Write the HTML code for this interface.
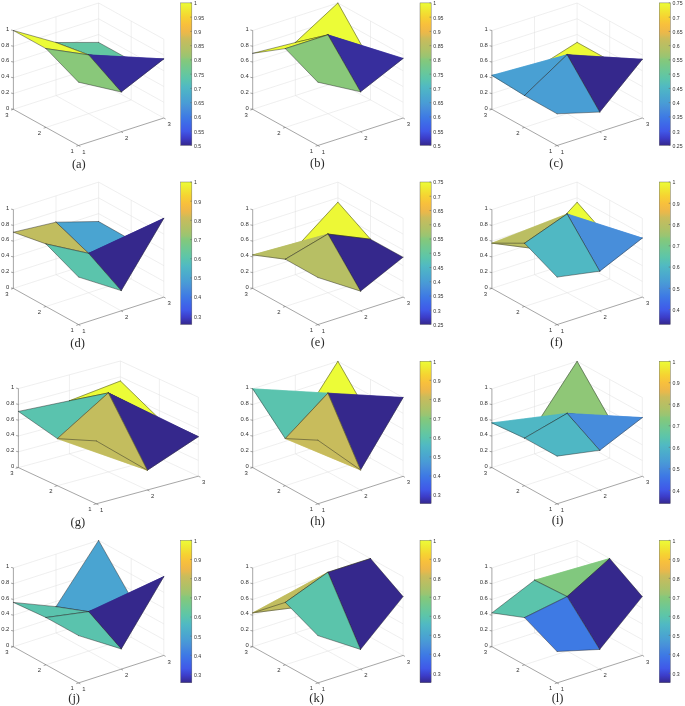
<!DOCTYPE html>
<html><head><meta charset="utf-8"><style>
html,body{margin:0;padding:0;background:#fff;width:685px;height:706px;overflow:hidden}
svg{position:absolute;left:0;top:0;will-change:transform}
.g{stroke:#dedede;stroke-width:0.5}
.a{stroke:#6a6a6a;stroke-width:0.6}
.s{stroke:#222;stroke-width:0.45;stroke-linecap:round}
.cbr{stroke:#5a5a5a;stroke-width:0.4}
.t{font-family:"Liberation Sans",sans-serif;font-size:5.9px;fill:#303030}
.ct{font-family:"Liberation Sans",sans-serif;font-size:5.2px;fill:#303030}
.lab{font-family:"Liberation Serif",serif;font-size:12.5px;fill:#2a2a2a}
</style></head><body>
<svg width="685" height="706" viewBox="0 0 685 706">
<defs><linearGradient id="par" x1="0" y1="1" x2="0" y2="0">
<stop offset="0.0000" stop-color="#35288c"/>
<stop offset="0.0500" stop-color="#3c3cc8"/>
<stop offset="0.1000" stop-color="#4058e8"/>
<stop offset="0.1500" stop-color="#3e69e8"/>
<stop offset="0.2000" stop-color="#3e7be4"/>
<stop offset="0.2600" stop-color="#488fda"/>
<stop offset="0.3000" stop-color="#499dd5"/>
<stop offset="0.3500" stop-color="#4baacd"/>
<stop offset="0.4100" stop-color="#50b9c3"/>
<stop offset="0.4700" stop-color="#5cc5aa"/>
<stop offset="0.5300" stop-color="#6ec894"/>
<stop offset="0.5900" stop-color="#82c87d"/>
<stop offset="0.6050" stop-color="#88c87b"/>
<stop offset="0.6200" stop-color="#98c573"/>
<stop offset="0.6600" stop-color="#aac269"/>
<stop offset="0.7200" stop-color="#c0bd60"/>
<stop offset="0.7500" stop-color="#cbbc5a"/>
<stop offset="0.7800" stop-color="#e4b94e"/>
<stop offset="0.8000" stop-color="#eeb848"/>
<stop offset="0.8500" stop-color="#f8c03c"/>
<stop offset="0.9000" stop-color="#f6d232"/>
<stop offset="0.9500" stop-color="#f0e832"/>
<stop offset="1.0000" stop-color="#ecfc37"/>
</linearGradient></defs>
<line class="g" x1="121.20" y1="131.75" x2="56.00" y2="95.55"/>
<line class="g" x1="163.80" y1="118.00" x2="98.60" y2="81.80"/>
<line class="g" x1="46.00" y1="127.40" x2="131.20" y2="99.90"/>
<line class="g" x1="13.40" y1="109.30" x2="98.60" y2="81.80"/>
<line class="g" x1="56.00" y1="95.55" x2="56.00" y2="16.75"/>
<line class="g" x1="98.60" y1="81.80" x2="98.60" y2="3.00"/>
<line class="g" x1="163.80" y1="118.00" x2="163.80" y2="39.20"/>
<line class="g" x1="131.20" y1="99.90" x2="131.20" y2="21.10"/>
<line class="g" x1="13.40" y1="93.54" x2="98.60" y2="66.04"/>
<line class="g" x1="163.80" y1="102.24" x2="98.60" y2="66.04"/>
<line class="g" x1="13.40" y1="77.78" x2="98.60" y2="50.28"/>
<line class="g" x1="163.80" y1="86.48" x2="98.60" y2="50.28"/>
<line class="g" x1="13.40" y1="62.02" x2="98.60" y2="34.52"/>
<line class="g" x1="163.80" y1="70.72" x2="98.60" y2="34.52"/>
<line class="g" x1="13.40" y1="46.26" x2="98.60" y2="18.76"/>
<line class="g" x1="163.80" y1="54.96" x2="98.60" y2="18.76"/>
<line class="g" x1="13.40" y1="30.50" x2="98.60" y2="3.00"/>
<line class="g" x1="163.80" y1="39.20" x2="98.60" y2="3.00"/>
<line class="a" x1="13.40" y1="109.30" x2="13.40" y2="30.50"/>
<line class="a" x1="78.60" y1="145.50" x2="13.40" y2="109.30"/>
<line class="a" x1="78.60" y1="145.50" x2="163.80" y2="118.00"/>
<line class="a" x1="13.40" y1="109.30" x2="11.10" y2="108.80"/>
<line class="a" x1="13.40" y1="93.54" x2="11.10" y2="93.04"/>
<line class="a" x1="13.40" y1="77.78" x2="11.10" y2="77.28"/>
<line class="a" x1="13.40" y1="62.02" x2="11.10" y2="61.52"/>
<line class="a" x1="13.40" y1="46.26" x2="11.10" y2="45.76"/>
<line class="a" x1="13.40" y1="30.50" x2="11.10" y2="30.00"/>
<line class="a" x1="78.60" y1="145.50" x2="76.26" y2="146.26"/>
<line class="a" x1="46.00" y1="127.40" x2="43.66" y2="128.16"/>
<line class="a" x1="13.40" y1="109.30" x2="11.06" y2="110.06"/>
<line class="a" x1="78.60" y1="145.50" x2="80.39" y2="146.50"/>
<line class="a" x1="121.20" y1="131.75" x2="122.99" y2="132.75"/>
<line class="a" x1="163.80" y1="118.00" x2="165.59" y2="119.00"/>
<text class="t" x="9.40" y="109.61" text-anchor="end">0</text>
<text class="t" x="9.40" y="93.85" text-anchor="end">0.2</text>
<text class="t" x="9.40" y="78.09" text-anchor="end">0.4</text>
<text class="t" x="9.40" y="62.33" text-anchor="end">0.6</text>
<text class="t" x="9.40" y="46.57" text-anchor="end">0.8</text>
<text class="t" x="9.40" y="30.81" text-anchor="end">1</text>
<text class="t" x="72.10" y="153.06" text-anchor="middle">1</text>
<text class="t" x="39.50" y="134.96" text-anchor="middle">2</text>
<text class="t" x="6.90" y="116.86" text-anchor="middle">3</text>
<text class="t" x="84.00" y="153.61" text-anchor="middle">1</text>
<text class="t" x="126.60" y="139.86" text-anchor="middle">2</text>
<text class="t" x="169.20" y="126.11" text-anchor="middle">3</text>
<path fill="#63c6a2" d="M56.00,42.52 L98.60,42.40 L131.20,60.50 Z M56.00,42.52 L131.20,60.50 L88.60,54.87 Z"/>
<line class="s" x1="131.20" y1="60.50" x2="98.60" y2="42.40"/>
<line class="s" x1="98.60" y1="42.40" x2="56.00" y2="42.52"/>
<line class="s" x1="88.60" y1="54.87" x2="131.20" y2="60.50"/>
<line class="s" x1="88.60" y1="54.87" x2="56.00" y2="42.52"/>
<path fill="#ecfc37" d="M13.40,30.50 L56.00,42.52 L88.60,54.87 Z M13.40,30.50 L88.60,54.87 L46.00,48.60 Z"/>
<line class="s" x1="88.60" y1="54.87" x2="56.00" y2="42.52"/>
<line class="s" x1="56.00" y1="42.52" x2="13.40" y2="30.50"/>
<line class="s" x1="46.00" y1="48.60" x2="88.60" y2="54.87"/>
<line class="s" x1="46.00" y1="48.60" x2="13.40" y2="30.50"/>
<polygon fill="#362c98" stroke="#362c98" stroke-width="0.5" points="163.80,58.90 131.20,60.50 88.60,54.87"/>
<line class="s" x1="163.80" y1="58.90" x2="131.20" y2="60.50"/>
<line class="s" x1="131.20" y1="60.50" x2="88.60" y2="54.87"/>
<polygon fill="#362c98" stroke="#362c98" stroke-width="0.5" points="121.20,91.96 163.80,58.90 88.60,54.87"/>
<line class="s" x1="121.20" y1="91.96" x2="163.80" y2="58.90"/>
<line class="s" x1="121.20" y1="91.96" x2="88.60" y2="54.87"/>
<path fill="#89c87a" d="M46.00,48.60 L88.60,54.87 L121.20,91.96 Z M46.00,48.60 L121.20,91.96 L78.60,82.22 Z"/>
<line class="s" x1="121.20" y1="91.96" x2="88.60" y2="54.87"/>
<line class="s" x1="88.60" y1="54.87" x2="46.00" y2="48.60"/>
<line class="s" x1="78.60" y1="82.22" x2="121.20" y2="91.96"/>
<line class="s" x1="78.60" y1="82.22" x2="46.00" y2="48.60"/>
<rect x="180.70" y="2.90" width="11.15" height="142.50" fill="url(#par)" class="cbr"/>
<line class="a" x1="190.25" y1="145.40" x2="191.85" y2="145.40"/>
<text class="ct" x="194.05" y="147.76">0.5</text>
<line class="a" x1="190.25" y1="131.15" x2="191.85" y2="131.15"/>
<text class="ct" x="194.05" y="133.51">0.55</text>
<line class="a" x1="190.25" y1="116.90" x2="191.85" y2="116.90"/>
<text class="ct" x="194.05" y="119.26">0.6</text>
<line class="a" x1="190.25" y1="102.65" x2="191.85" y2="102.65"/>
<text class="ct" x="194.05" y="105.01">0.65</text>
<line class="a" x1="190.25" y1="88.40" x2="191.85" y2="88.40"/>
<text class="ct" x="194.05" y="90.76">0.7</text>
<line class="a" x1="190.25" y1="74.15" x2="191.85" y2="74.15"/>
<text class="ct" x="194.05" y="76.51">0.75</text>
<line class="a" x1="190.25" y1="59.90" x2="191.85" y2="59.90"/>
<text class="ct" x="194.05" y="62.26">0.8</text>
<line class="a" x1="190.25" y1="45.65" x2="191.85" y2="45.65"/>
<text class="ct" x="194.05" y="48.01">0.85</text>
<line class="a" x1="190.25" y1="31.40" x2="191.85" y2="31.40"/>
<text class="ct" x="194.05" y="33.76">0.9</text>
<line class="a" x1="190.25" y1="17.15" x2="191.85" y2="17.15"/>
<text class="ct" x="194.05" y="19.51">0.95</text>
<line class="a" x1="190.25" y1="2.90" x2="191.85" y2="2.90"/>
<text class="ct" x="194.05" y="5.26">1</text>
<text class="lab" x="78.85" y="168.30" text-anchor="middle">(a)</text>
<line class="g" x1="360.50" y1="131.75" x2="295.30" y2="95.55"/>
<line class="g" x1="403.10" y1="118.00" x2="337.90" y2="81.80"/>
<line class="g" x1="285.30" y1="127.40" x2="370.50" y2="99.90"/>
<line class="g" x1="252.70" y1="109.30" x2="337.90" y2="81.80"/>
<line class="g" x1="295.30" y1="95.55" x2="295.30" y2="16.75"/>
<line class="g" x1="337.90" y1="81.80" x2="337.90" y2="3.00"/>
<line class="g" x1="403.10" y1="118.00" x2="403.10" y2="39.20"/>
<line class="g" x1="370.50" y1="99.90" x2="370.50" y2="21.10"/>
<line class="g" x1="252.70" y1="93.54" x2="337.90" y2="66.04"/>
<line class="g" x1="403.10" y1="102.24" x2="337.90" y2="66.04"/>
<line class="g" x1="252.70" y1="77.78" x2="337.90" y2="50.28"/>
<line class="g" x1="403.10" y1="86.48" x2="337.90" y2="50.28"/>
<line class="g" x1="252.70" y1="62.02" x2="337.90" y2="34.52"/>
<line class="g" x1="403.10" y1="70.72" x2="337.90" y2="34.52"/>
<line class="g" x1="252.70" y1="46.26" x2="337.90" y2="18.76"/>
<line class="g" x1="403.10" y1="54.96" x2="337.90" y2="18.76"/>
<line class="g" x1="252.70" y1="30.50" x2="337.90" y2="3.00"/>
<line class="g" x1="403.10" y1="39.20" x2="337.90" y2="3.00"/>
<line class="a" x1="252.70" y1="109.30" x2="252.70" y2="30.50"/>
<line class="a" x1="317.90" y1="145.50" x2="252.70" y2="109.30"/>
<line class="a" x1="317.90" y1="145.50" x2="403.10" y2="118.00"/>
<line class="a" x1="252.70" y1="109.30" x2="250.40" y2="108.80"/>
<line class="a" x1="252.70" y1="93.54" x2="250.40" y2="93.04"/>
<line class="a" x1="252.70" y1="77.78" x2="250.40" y2="77.28"/>
<line class="a" x1="252.70" y1="62.02" x2="250.40" y2="61.52"/>
<line class="a" x1="252.70" y1="46.26" x2="250.40" y2="45.76"/>
<line class="a" x1="252.70" y1="30.50" x2="250.40" y2="30.00"/>
<line class="a" x1="317.90" y1="145.50" x2="315.56" y2="146.26"/>
<line class="a" x1="285.30" y1="127.40" x2="282.96" y2="128.16"/>
<line class="a" x1="252.70" y1="109.30" x2="250.36" y2="110.06"/>
<line class="a" x1="317.90" y1="145.50" x2="319.69" y2="146.50"/>
<line class="a" x1="360.50" y1="131.75" x2="362.29" y2="132.75"/>
<line class="a" x1="403.10" y1="118.00" x2="404.89" y2="119.00"/>
<text class="t" x="248.70" y="109.61" text-anchor="end">0</text>
<text class="t" x="248.70" y="93.85" text-anchor="end">0.2</text>
<text class="t" x="248.70" y="78.09" text-anchor="end">0.4</text>
<text class="t" x="248.70" y="62.33" text-anchor="end">0.6</text>
<text class="t" x="248.70" y="46.57" text-anchor="end">0.8</text>
<text class="t" x="248.70" y="30.81" text-anchor="end">1</text>
<text class="t" x="311.40" y="153.06" text-anchor="middle">1</text>
<text class="t" x="278.80" y="134.96" text-anchor="middle">2</text>
<text class="t" x="246.20" y="116.86" text-anchor="middle">3</text>
<text class="t" x="323.30" y="153.61" text-anchor="middle">1</text>
<text class="t" x="365.90" y="139.86" text-anchor="middle">2</text>
<text class="t" x="408.50" y="126.11" text-anchor="middle">3</text>
<polygon fill="#ecfc37" stroke="#ecfc37" stroke-width="0.5" points="370.50,61.29 337.90,3.00 295.30,42.52"/>
<line class="s" x1="370.50" y1="61.29" x2="337.90" y2="3.00"/>
<line class="s" x1="337.90" y1="3.00" x2="295.30" y2="42.52"/>
<polygon fill="#ecfc37" stroke="#ecfc37" stroke-width="0.5" points="327.90,34.85 370.50,61.29 295.30,42.52"/>
<line class="s" x1="327.90" y1="34.85" x2="370.50" y2="61.29"/>
<line class="s" x1="327.90" y1="34.85" x2="295.30" y2="42.52"/>
<path fill="#ecfc37" d="M252.70,53.35 L295.30,42.52 L327.90,34.85 Z M252.70,53.35 L327.90,34.85 L285.30,48.60 Z"/>
<line class="s" x1="327.90" y1="34.85" x2="295.30" y2="42.52"/>
<line class="s" x1="295.30" y1="42.52" x2="252.70" y2="53.35"/>
<line class="s" x1="285.30" y1="48.60" x2="327.90" y2="34.85"/>
<line class="s" x1="285.30" y1="48.60" x2="252.70" y2="53.35"/>
<polygon fill="#372e9d" stroke="#372e9d" stroke-width="0.5" points="403.10,58.43 370.50,61.29 327.90,34.85"/>
<line class="s" x1="403.10" y1="58.43" x2="370.50" y2="61.29"/>
<line class="s" x1="370.50" y1="61.29" x2="327.90" y2="34.85"/>
<polygon fill="#372e9d" stroke="#372e9d" stroke-width="0.5" points="360.50,91.80 403.10,58.43 327.90,34.85"/>
<line class="s" x1="360.50" y1="91.80" x2="403.10" y2="58.43"/>
<line class="s" x1="360.50" y1="91.80" x2="327.90" y2="34.85"/>
<path fill="#89c87a" d="M285.30,48.60 L327.90,34.85 L360.50,91.80 Z M285.30,48.60 L360.50,91.80 L317.90,82.22 Z"/>
<line class="s" x1="360.50" y1="91.80" x2="327.90" y2="34.85"/>
<line class="s" x1="327.90" y1="34.85" x2="285.30" y2="48.60"/>
<line class="s" x1="317.90" y1="82.22" x2="360.50" y2="91.80"/>
<line class="s" x1="317.90" y1="82.22" x2="285.30" y2="48.60"/>
<rect x="420.00" y="2.90" width="11.15" height="142.50" fill="url(#par)" class="cbr"/>
<line class="a" x1="429.55" y1="145.40" x2="431.15" y2="145.40"/>
<text class="ct" x="433.35" y="147.76">0.5</text>
<line class="a" x1="429.55" y1="131.15" x2="431.15" y2="131.15"/>
<text class="ct" x="433.35" y="133.51">0.55</text>
<line class="a" x1="429.55" y1="116.90" x2="431.15" y2="116.90"/>
<text class="ct" x="433.35" y="119.26">0.6</text>
<line class="a" x1="429.55" y1="102.65" x2="431.15" y2="102.65"/>
<text class="ct" x="433.35" y="105.01">0.65</text>
<line class="a" x1="429.55" y1="88.40" x2="431.15" y2="88.40"/>
<text class="ct" x="433.35" y="90.76">0.7</text>
<line class="a" x1="429.55" y1="74.15" x2="431.15" y2="74.15"/>
<text class="ct" x="433.35" y="76.51">0.75</text>
<line class="a" x1="429.55" y1="59.90" x2="431.15" y2="59.90"/>
<text class="ct" x="433.35" y="62.26">0.8</text>
<line class="a" x1="429.55" y1="45.65" x2="431.15" y2="45.65"/>
<text class="ct" x="433.35" y="48.01">0.85</text>
<line class="a" x1="429.55" y1="31.40" x2="431.15" y2="31.40"/>
<text class="ct" x="433.35" y="33.76">0.9</text>
<line class="a" x1="429.55" y1="17.15" x2="431.15" y2="17.15"/>
<text class="ct" x="433.35" y="19.51">0.95</text>
<line class="a" x1="429.55" y1="2.90" x2="431.15" y2="2.90"/>
<text class="ct" x="433.35" y="5.26">1</text>
<text class="lab" x="317.35" y="166.80" text-anchor="middle">(b)</text>
<line class="g" x1="599.70" y1="131.75" x2="534.50" y2="95.55"/>
<line class="g" x1="642.30" y1="118.00" x2="577.10" y2="81.80"/>
<line class="g" x1="524.50" y1="127.40" x2="609.70" y2="99.90"/>
<line class="g" x1="491.90" y1="109.30" x2="577.10" y2="81.80"/>
<line class="g" x1="534.50" y1="95.55" x2="534.50" y2="16.75"/>
<line class="g" x1="577.10" y1="81.80" x2="577.10" y2="3.00"/>
<line class="g" x1="642.30" y1="118.00" x2="642.30" y2="39.20"/>
<line class="g" x1="609.70" y1="99.90" x2="609.70" y2="21.10"/>
<line class="g" x1="491.90" y1="93.54" x2="577.10" y2="66.04"/>
<line class="g" x1="642.30" y1="102.24" x2="577.10" y2="66.04"/>
<line class="g" x1="491.90" y1="77.78" x2="577.10" y2="50.28"/>
<line class="g" x1="642.30" y1="86.48" x2="577.10" y2="50.28"/>
<line class="g" x1="491.90" y1="62.02" x2="577.10" y2="34.52"/>
<line class="g" x1="642.30" y1="70.72" x2="577.10" y2="34.52"/>
<line class="g" x1="491.90" y1="46.26" x2="577.10" y2="18.76"/>
<line class="g" x1="642.30" y1="54.96" x2="577.10" y2="18.76"/>
<line class="g" x1="491.90" y1="30.50" x2="577.10" y2="3.00"/>
<line class="g" x1="642.30" y1="39.20" x2="577.10" y2="3.00"/>
<line class="a" x1="491.90" y1="109.30" x2="491.90" y2="30.50"/>
<line class="a" x1="557.10" y1="145.50" x2="491.90" y2="109.30"/>
<line class="a" x1="557.10" y1="145.50" x2="642.30" y2="118.00"/>
<line class="a" x1="491.90" y1="109.30" x2="489.60" y2="108.80"/>
<line class="a" x1="491.90" y1="93.54" x2="489.60" y2="93.04"/>
<line class="a" x1="491.90" y1="77.78" x2="489.60" y2="77.28"/>
<line class="a" x1="491.90" y1="62.02" x2="489.60" y2="61.52"/>
<line class="a" x1="491.90" y1="46.26" x2="489.60" y2="45.76"/>
<line class="a" x1="491.90" y1="30.50" x2="489.60" y2="30.00"/>
<line class="a" x1="557.10" y1="145.50" x2="554.76" y2="146.26"/>
<line class="a" x1="524.50" y1="127.40" x2="522.16" y2="128.16"/>
<line class="a" x1="491.90" y1="109.30" x2="489.56" y2="110.06"/>
<line class="a" x1="557.10" y1="145.50" x2="558.89" y2="146.50"/>
<line class="a" x1="599.70" y1="131.75" x2="601.49" y2="132.75"/>
<line class="a" x1="642.30" y1="118.00" x2="644.09" y2="119.00"/>
<text class="t" x="487.90" y="109.61" text-anchor="end">0</text>
<text class="t" x="487.90" y="93.85" text-anchor="end">0.2</text>
<text class="t" x="487.90" y="78.09" text-anchor="end">0.4</text>
<text class="t" x="487.90" y="62.33" text-anchor="end">0.6</text>
<text class="t" x="487.90" y="46.57" text-anchor="end">0.8</text>
<text class="t" x="487.90" y="30.81" text-anchor="end">1</text>
<text class="t" x="550.60" y="153.06" text-anchor="middle">1</text>
<text class="t" x="518.00" y="134.96" text-anchor="middle">2</text>
<text class="t" x="485.40" y="116.86" text-anchor="middle">3</text>
<text class="t" x="562.50" y="153.61" text-anchor="middle">1</text>
<text class="t" x="605.10" y="139.86" text-anchor="middle">2</text>
<text class="t" x="647.70" y="126.11" text-anchor="middle">3</text>
<polygon fill="#ecfa37" stroke="#ecfa37" stroke-width="0.5" points="609.70,60.50 577.10,42.40 534.50,69.23"/>
<line class="s" x1="609.70" y1="60.50" x2="577.10" y2="42.40"/>
<line class="s" x1="577.10" y1="42.40" x2="534.50" y2="69.23"/>
<polygon fill="#ecfa37" stroke="#ecfa37" stroke-width="0.5" points="567.10,54.71 609.70,60.50 534.50,69.23"/>
<line class="s" x1="567.10" y1="54.71" x2="609.70" y2="60.50"/>
<line class="s" x1="567.10" y1="54.71" x2="534.50" y2="69.23"/>
<polygon fill="#49a0d3" stroke="#49a0d3" stroke-width="0.5" points="567.10,54.71 534.50,69.23 491.90,75.42"/>
<line class="s" x1="567.10" y1="54.71" x2="534.50" y2="69.23"/>
<line class="s" x1="534.50" y1="69.23" x2="491.90" y2="75.42"/>
<polygon fill="#35288c" stroke="#35288c" stroke-width="0.5" points="642.30,59.29 609.70,60.50 567.10,54.71"/>
<line class="s" x1="642.30" y1="59.29" x2="609.70" y2="60.50"/>
<line class="s" x1="609.70" y1="60.50" x2="567.10" y2="54.71"/>
<polygon fill="#49a0d3" stroke="#49a0d3" stroke-width="0.5" points="524.50,95.49 567.10,54.71 491.90,75.42"/>
<line class="s" x1="524.50" y1="95.49" x2="567.10" y2="54.71"/>
<line class="s" x1="524.50" y1="95.49" x2="491.90" y2="75.42"/>
<polygon fill="#35288c" stroke="#35288c" stroke-width="0.5" points="599.70,112.05 642.30,59.29 567.10,54.71"/>
<line class="s" x1="599.70" y1="112.05" x2="642.30" y2="59.29"/>
<line class="s" x1="599.70" y1="112.05" x2="567.10" y2="54.71"/>
<path fill="#499ed4" d="M524.50,95.49 L567.10,54.71 L599.70,112.05 Z M524.50,95.49 L599.70,112.05 L557.10,113.82 Z"/>
<line class="s" x1="599.70" y1="112.05" x2="567.10" y2="54.71"/>
<line class="s" x1="567.10" y1="54.71" x2="524.50" y2="95.49"/>
<line class="s" x1="557.10" y1="113.82" x2="599.70" y2="112.05"/>
<line class="s" x1="557.10" y1="113.82" x2="524.50" y2="95.49"/>
<rect x="659.20" y="2.90" width="11.15" height="142.50" fill="url(#par)" class="cbr"/>
<line class="a" x1="668.75" y1="145.40" x2="670.35" y2="145.40"/>
<text class="ct" x="672.55" y="147.76">0.25</text>
<line class="a" x1="668.75" y1="131.15" x2="670.35" y2="131.15"/>
<text class="ct" x="672.55" y="133.51">0.3</text>
<line class="a" x1="668.75" y1="116.90" x2="670.35" y2="116.90"/>
<text class="ct" x="672.55" y="119.26">0.35</text>
<line class="a" x1="668.75" y1="102.65" x2="670.35" y2="102.65"/>
<text class="ct" x="672.55" y="105.01">0.4</text>
<line class="a" x1="668.75" y1="88.40" x2="670.35" y2="88.40"/>
<text class="ct" x="672.55" y="90.76">0.45</text>
<line class="a" x1="668.75" y1="74.15" x2="670.35" y2="74.15"/>
<text class="ct" x="672.55" y="76.51">0.5</text>
<line class="a" x1="668.75" y1="59.90" x2="670.35" y2="59.90"/>
<text class="ct" x="672.55" y="62.26">0.55</text>
<line class="a" x1="668.75" y1="45.65" x2="670.35" y2="45.65"/>
<text class="ct" x="672.55" y="48.01">0.6</text>
<line class="a" x1="668.75" y1="31.40" x2="670.35" y2="31.40"/>
<text class="ct" x="672.55" y="33.76">0.65</text>
<line class="a" x1="668.75" y1="17.15" x2="670.35" y2="17.15"/>
<text class="ct" x="672.55" y="19.51">0.7</text>
<line class="a" x1="668.75" y1="2.90" x2="670.35" y2="2.90"/>
<text class="ct" x="672.55" y="5.26">0.75</text>
<text class="lab" x="556.25" y="166.60" text-anchor="middle">(c)</text>
<line class="g" x1="121.20" y1="310.85" x2="56.00" y2="274.65"/>
<line class="g" x1="163.80" y1="297.10" x2="98.60" y2="260.90"/>
<line class="g" x1="46.00" y1="306.50" x2="131.20" y2="279.00"/>
<line class="g" x1="13.40" y1="288.40" x2="98.60" y2="260.90"/>
<line class="g" x1="56.00" y1="274.65" x2="56.00" y2="195.85"/>
<line class="g" x1="98.60" y1="260.90" x2="98.60" y2="182.10"/>
<line class="g" x1="163.80" y1="297.10" x2="163.80" y2="218.30"/>
<line class="g" x1="131.20" y1="279.00" x2="131.20" y2="200.20"/>
<line class="g" x1="13.40" y1="272.64" x2="98.60" y2="245.14"/>
<line class="g" x1="163.80" y1="281.34" x2="98.60" y2="245.14"/>
<line class="g" x1="13.40" y1="256.88" x2="98.60" y2="229.38"/>
<line class="g" x1="163.80" y1="265.58" x2="98.60" y2="229.38"/>
<line class="g" x1="13.40" y1="241.12" x2="98.60" y2="213.62"/>
<line class="g" x1="163.80" y1="249.82" x2="98.60" y2="213.62"/>
<line class="g" x1="13.40" y1="225.36" x2="98.60" y2="197.86"/>
<line class="g" x1="163.80" y1="234.06" x2="98.60" y2="197.86"/>
<line class="g" x1="13.40" y1="209.60" x2="98.60" y2="182.10"/>
<line class="g" x1="163.80" y1="218.30" x2="98.60" y2="182.10"/>
<line class="a" x1="13.40" y1="288.40" x2="13.40" y2="209.60"/>
<line class="a" x1="78.60" y1="324.60" x2="13.40" y2="288.40"/>
<line class="a" x1="78.60" y1="324.60" x2="163.80" y2="297.10"/>
<line class="a" x1="13.40" y1="288.40" x2="11.10" y2="287.90"/>
<line class="a" x1="13.40" y1="272.64" x2="11.10" y2="272.14"/>
<line class="a" x1="13.40" y1="256.88" x2="11.10" y2="256.38"/>
<line class="a" x1="13.40" y1="241.12" x2="11.10" y2="240.62"/>
<line class="a" x1="13.40" y1="225.36" x2="11.10" y2="224.86"/>
<line class="a" x1="13.40" y1="209.60" x2="11.10" y2="209.10"/>
<line class="a" x1="78.60" y1="324.60" x2="76.26" y2="325.36"/>
<line class="a" x1="46.00" y1="306.50" x2="43.66" y2="307.26"/>
<line class="a" x1="13.40" y1="288.40" x2="11.06" y2="289.16"/>
<line class="a" x1="78.60" y1="324.60" x2="80.39" y2="325.60"/>
<line class="a" x1="121.20" y1="310.85" x2="122.99" y2="311.85"/>
<line class="a" x1="163.80" y1="297.10" x2="165.59" y2="298.10"/>
<text class="t" x="9.40" y="288.71" text-anchor="end">0</text>
<text class="t" x="9.40" y="272.95" text-anchor="end">0.2</text>
<text class="t" x="9.40" y="257.19" text-anchor="end">0.4</text>
<text class="t" x="9.40" y="241.43" text-anchor="end">0.6</text>
<text class="t" x="9.40" y="225.67" text-anchor="end">0.8</text>
<text class="t" x="9.40" y="209.91" text-anchor="end">1</text>
<text class="t" x="72.10" y="332.16" text-anchor="middle">1</text>
<text class="t" x="39.50" y="314.06" text-anchor="middle">2</text>
<text class="t" x="6.90" y="295.96" text-anchor="middle">3</text>
<text class="t" x="84.00" y="332.71" text-anchor="middle">1</text>
<text class="t" x="126.60" y="318.96" text-anchor="middle">2</text>
<text class="t" x="169.20" y="305.21" text-anchor="middle">3</text>
<path fill="#4aa4d1" d="M56.00,222.17 L98.60,221.50 L131.20,239.99 Z M56.00,222.17 L131.20,239.99 L88.60,253.35 Z"/>
<line class="s" x1="131.20" y1="239.99" x2="98.60" y2="221.50"/>
<line class="s" x1="98.60" y1="221.50" x2="56.00" y2="222.17"/>
<line class="s" x1="88.60" y1="253.35" x2="131.20" y2="239.99"/>
<line class="s" x1="88.60" y1="253.35" x2="56.00" y2="222.17"/>
<path fill="#c1bd5f" d="M13.40,232.22 L56.00,222.17 L88.60,253.35 Z M13.40,232.22 L88.60,253.35 L46.00,243.93 Z"/>
<line class="s" x1="88.60" y1="253.35" x2="56.00" y2="222.17"/>
<line class="s" x1="56.00" y1="222.17" x2="13.40" y2="232.22"/>
<line class="s" x1="46.00" y1="243.93" x2="88.60" y2="253.35"/>
<line class="s" x1="46.00" y1="243.93" x2="13.40" y2="232.22"/>
<polygon fill="#35288c" stroke="#35288c" stroke-width="0.5" points="163.80,218.30 131.20,239.99 88.60,253.35"/>
<line class="s" x1="163.80" y1="218.30" x2="131.20" y2="239.99"/>
<line class="s" x1="131.20" y1="239.99" x2="88.60" y2="253.35"/>
<polygon fill="#35288c" stroke="#35288c" stroke-width="0.5" points="121.20,290.60 163.80,218.30 88.60,253.35"/>
<line class="s" x1="121.20" y1="290.60" x2="163.80" y2="218.30"/>
<line class="s" x1="121.20" y1="290.60" x2="88.60" y2="253.35"/>
<path fill="#5bc4ac" d="M46.00,243.93 L88.60,253.35 L121.20,290.60 Z M46.00,243.93 L121.20,290.60 L78.60,277.08 Z"/>
<line class="s" x1="121.20" y1="290.60" x2="88.60" y2="253.35"/>
<line class="s" x1="88.60" y1="253.35" x2="46.00" y2="243.93"/>
<line class="s" x1="78.60" y1="277.08" x2="121.20" y2="290.60"/>
<line class="s" x1="78.60" y1="277.08" x2="46.00" y2="243.93"/>
<rect x="180.70" y="182.00" width="11.15" height="142.50" fill="url(#par)" class="cbr"/>
<line class="a" x1="190.25" y1="316.25" x2="191.85" y2="316.25"/>
<text class="ct" x="194.05" y="318.61">0.3</text>
<line class="a" x1="190.25" y1="297.07" x2="191.85" y2="297.07"/>
<text class="ct" x="194.05" y="299.44">0.4</text>
<line class="a" x1="190.25" y1="277.90" x2="191.85" y2="277.90"/>
<text class="ct" x="194.05" y="280.26">0.5</text>
<line class="a" x1="190.25" y1="258.72" x2="191.85" y2="258.72"/>
<text class="ct" x="194.05" y="261.08">0.6</text>
<line class="a" x1="190.25" y1="239.54" x2="191.85" y2="239.54"/>
<text class="ct" x="194.05" y="241.90">0.7</text>
<line class="a" x1="190.25" y1="220.36" x2="191.85" y2="220.36"/>
<text class="ct" x="194.05" y="222.72">0.8</text>
<line class="a" x1="190.25" y1="201.18" x2="191.85" y2="201.18"/>
<text class="ct" x="194.05" y="203.54">0.9</text>
<line class="a" x1="190.25" y1="182.00" x2="191.85" y2="182.00"/>
<text class="ct" x="194.05" y="184.36">1</text>
<text class="lab" x="77.60" y="346.50" text-anchor="middle">(d)</text>
<line class="g" x1="360.50" y1="310.85" x2="295.30" y2="274.65"/>
<line class="g" x1="403.10" y1="297.10" x2="337.90" y2="260.90"/>
<line class="g" x1="285.30" y1="306.50" x2="370.50" y2="279.00"/>
<line class="g" x1="252.70" y1="288.40" x2="337.90" y2="260.90"/>
<line class="g" x1="295.30" y1="274.65" x2="295.30" y2="195.85"/>
<line class="g" x1="337.90" y1="260.90" x2="337.90" y2="182.10"/>
<line class="g" x1="403.10" y1="297.10" x2="403.10" y2="218.30"/>
<line class="g" x1="370.50" y1="279.00" x2="370.50" y2="200.20"/>
<line class="g" x1="252.70" y1="272.64" x2="337.90" y2="245.14"/>
<line class="g" x1="403.10" y1="281.34" x2="337.90" y2="245.14"/>
<line class="g" x1="252.70" y1="256.88" x2="337.90" y2="229.38"/>
<line class="g" x1="403.10" y1="265.58" x2="337.90" y2="229.38"/>
<line class="g" x1="252.70" y1="241.12" x2="337.90" y2="213.62"/>
<line class="g" x1="403.10" y1="249.82" x2="337.90" y2="213.62"/>
<line class="g" x1="252.70" y1="225.36" x2="337.90" y2="197.86"/>
<line class="g" x1="403.10" y1="234.06" x2="337.90" y2="197.86"/>
<line class="g" x1="252.70" y1="209.60" x2="337.90" y2="182.10"/>
<line class="g" x1="403.10" y1="218.30" x2="337.90" y2="182.10"/>
<line class="a" x1="252.70" y1="288.40" x2="252.70" y2="209.60"/>
<line class="a" x1="317.90" y1="324.60" x2="252.70" y2="288.40"/>
<line class="a" x1="317.90" y1="324.60" x2="403.10" y2="297.10"/>
<line class="a" x1="252.70" y1="288.40" x2="250.40" y2="287.90"/>
<line class="a" x1="252.70" y1="272.64" x2="250.40" y2="272.14"/>
<line class="a" x1="252.70" y1="256.88" x2="250.40" y2="256.38"/>
<line class="a" x1="252.70" y1="241.12" x2="250.40" y2="240.62"/>
<line class="a" x1="252.70" y1="225.36" x2="250.40" y2="224.86"/>
<line class="a" x1="252.70" y1="209.60" x2="250.40" y2="209.10"/>
<line class="a" x1="317.90" y1="324.60" x2="315.56" y2="325.36"/>
<line class="a" x1="285.30" y1="306.50" x2="282.96" y2="307.26"/>
<line class="a" x1="252.70" y1="288.40" x2="250.36" y2="289.16"/>
<line class="a" x1="317.90" y1="324.60" x2="319.69" y2="325.60"/>
<line class="a" x1="360.50" y1="310.85" x2="362.29" y2="311.85"/>
<line class="a" x1="403.10" y1="297.10" x2="404.89" y2="298.10"/>
<text class="t" x="248.70" y="288.71" text-anchor="end">0</text>
<text class="t" x="248.70" y="272.95" text-anchor="end">0.2</text>
<text class="t" x="248.70" y="257.19" text-anchor="end">0.4</text>
<text class="t" x="248.70" y="241.43" text-anchor="end">0.6</text>
<text class="t" x="248.70" y="225.67" text-anchor="end">0.8</text>
<text class="t" x="248.70" y="209.91" text-anchor="end">1</text>
<text class="t" x="311.40" y="332.16" text-anchor="middle">1</text>
<text class="t" x="278.80" y="314.06" text-anchor="middle">2</text>
<text class="t" x="246.20" y="295.96" text-anchor="middle">3</text>
<text class="t" x="323.30" y="332.71" text-anchor="middle">1</text>
<text class="t" x="365.90" y="318.96" text-anchor="middle">2</text>
<text class="t" x="408.50" y="305.21" text-anchor="middle">3</text>
<polygon fill="#edf836" stroke="#edf836" stroke-width="0.5" points="370.50,239.21 337.90,202.19 295.30,248.33"/>
<line class="s" x1="370.50" y1="239.21" x2="337.90" y2="202.19"/>
<line class="s" x1="337.90" y1="202.19" x2="295.30" y2="248.33"/>
<polygon fill="#edf836" stroke="#edf836" stroke-width="0.5" points="327.90,234.04 370.50,239.21 295.30,248.33"/>
<line class="s" x1="327.90" y1="234.04" x2="370.50" y2="239.21"/>
<line class="s" x1="327.90" y1="234.04" x2="295.30" y2="248.33"/>
<polygon fill="#b9bf63" stroke="#b9bf63" stroke-width="0.5" points="327.90,234.04 295.30,248.33 252.70,254.91"/>
<line class="s" x1="327.90" y1="234.04" x2="295.30" y2="248.33"/>
<line class="s" x1="295.30" y1="248.33" x2="252.70" y2="254.91"/>
<path fill="#35288c" d="M327.90,234.04 L370.50,239.21 L403.10,257.23 Z M327.90,234.04 L403.10,257.23 L360.50,291.15 Z"/>
<line class="s" x1="403.10" y1="257.23" x2="370.50" y2="239.21"/>
<line class="s" x1="370.50" y1="239.21" x2="327.90" y2="234.04"/>
<line class="s" x1="360.50" y1="291.15" x2="403.10" y2="257.23"/>
<line class="s" x1="360.50" y1="291.15" x2="327.90" y2="234.04"/>
<polygon fill="#b9bf63" stroke="#b9bf63" stroke-width="0.5" points="285.30,259.22 327.90,234.04 252.70,254.91"/>
<line class="s" x1="285.30" y1="259.22" x2="327.90" y2="234.04"/>
<line class="s" x1="285.30" y1="259.22" x2="252.70" y2="254.91"/>
<path fill="#b7bf64" d="M285.30,259.22 L327.90,234.04 L360.50,291.15 Z M285.30,259.22 L360.50,291.15 L317.90,277.48 Z"/>
<line class="s" x1="360.50" y1="291.15" x2="327.90" y2="234.04"/>
<line class="s" x1="327.90" y1="234.04" x2="285.30" y2="259.22"/>
<line class="s" x1="317.90" y1="277.48" x2="360.50" y2="291.15"/>
<line class="s" x1="317.90" y1="277.48" x2="285.30" y2="259.22"/>
<rect x="420.00" y="182.00" width="11.15" height="142.50" fill="url(#par)" class="cbr"/>
<line class="a" x1="429.55" y1="324.50" x2="431.15" y2="324.50"/>
<text class="ct" x="433.35" y="326.86">0.25</text>
<line class="a" x1="429.55" y1="310.25" x2="431.15" y2="310.25"/>
<text class="ct" x="433.35" y="312.61">0.3</text>
<line class="a" x1="429.55" y1="296.00" x2="431.15" y2="296.00"/>
<text class="ct" x="433.35" y="298.36">0.35</text>
<line class="a" x1="429.55" y1="281.75" x2="431.15" y2="281.75"/>
<text class="ct" x="433.35" y="284.11">0.4</text>
<line class="a" x1="429.55" y1="267.50" x2="431.15" y2="267.50"/>
<text class="ct" x="433.35" y="269.86">0.45</text>
<line class="a" x1="429.55" y1="253.25" x2="431.15" y2="253.25"/>
<text class="ct" x="433.35" y="255.61">0.5</text>
<line class="a" x1="429.55" y1="239.00" x2="431.15" y2="239.00"/>
<text class="ct" x="433.35" y="241.36">0.55</text>
<line class="a" x1="429.55" y1="224.75" x2="431.15" y2="224.75"/>
<text class="ct" x="433.35" y="227.11">0.6</text>
<line class="a" x1="429.55" y1="210.50" x2="431.15" y2="210.50"/>
<text class="ct" x="433.35" y="212.86">0.65</text>
<line class="a" x1="429.55" y1="196.25" x2="431.15" y2="196.25"/>
<text class="ct" x="433.35" y="198.61">0.7</text>
<line class="a" x1="429.55" y1="182.00" x2="431.15" y2="182.00"/>
<text class="ct" x="433.35" y="184.36">0.75</text>
<text class="lab" x="317.65" y="346.30" text-anchor="middle">(e)</text>
<line class="g" x1="599.70" y1="310.85" x2="534.50" y2="274.65"/>
<line class="g" x1="642.30" y1="297.10" x2="577.10" y2="260.90"/>
<line class="g" x1="524.50" y1="306.50" x2="609.70" y2="279.00"/>
<line class="g" x1="491.90" y1="288.40" x2="577.10" y2="260.90"/>
<line class="g" x1="534.50" y1="274.65" x2="534.50" y2="195.85"/>
<line class="g" x1="577.10" y1="260.90" x2="577.10" y2="182.10"/>
<line class="g" x1="642.30" y1="297.10" x2="642.30" y2="218.30"/>
<line class="g" x1="609.70" y1="279.00" x2="609.70" y2="200.20"/>
<line class="g" x1="491.90" y1="272.64" x2="577.10" y2="245.14"/>
<line class="g" x1="642.30" y1="281.34" x2="577.10" y2="245.14"/>
<line class="g" x1="491.90" y1="256.88" x2="577.10" y2="229.38"/>
<line class="g" x1="642.30" y1="265.58" x2="577.10" y2="229.38"/>
<line class="g" x1="491.90" y1="241.12" x2="577.10" y2="213.62"/>
<line class="g" x1="642.30" y1="249.82" x2="577.10" y2="213.62"/>
<line class="g" x1="491.90" y1="225.36" x2="577.10" y2="197.86"/>
<line class="g" x1="642.30" y1="234.06" x2="577.10" y2="197.86"/>
<line class="g" x1="491.90" y1="209.60" x2="577.10" y2="182.10"/>
<line class="g" x1="642.30" y1="218.30" x2="577.10" y2="182.10"/>
<line class="a" x1="491.90" y1="288.40" x2="491.90" y2="209.60"/>
<line class="a" x1="557.10" y1="324.60" x2="491.90" y2="288.40"/>
<line class="a" x1="557.10" y1="324.60" x2="642.30" y2="297.10"/>
<line class="a" x1="491.90" y1="288.40" x2="489.60" y2="287.90"/>
<line class="a" x1="491.90" y1="272.64" x2="489.60" y2="272.14"/>
<line class="a" x1="491.90" y1="256.88" x2="489.60" y2="256.38"/>
<line class="a" x1="491.90" y1="241.12" x2="489.60" y2="240.62"/>
<line class="a" x1="491.90" y1="225.36" x2="489.60" y2="224.86"/>
<line class="a" x1="491.90" y1="209.60" x2="489.60" y2="209.10"/>
<line class="a" x1="557.10" y1="324.60" x2="554.76" y2="325.36"/>
<line class="a" x1="524.50" y1="306.50" x2="522.16" y2="307.26"/>
<line class="a" x1="491.90" y1="288.40" x2="489.56" y2="289.16"/>
<line class="a" x1="557.10" y1="324.60" x2="558.89" y2="325.60"/>
<line class="a" x1="599.70" y1="310.85" x2="601.49" y2="311.85"/>
<line class="a" x1="642.30" y1="297.10" x2="644.09" y2="298.10"/>
<text class="t" x="487.90" y="288.71" text-anchor="end">0</text>
<text class="t" x="487.90" y="272.95" text-anchor="end">0.2</text>
<text class="t" x="487.90" y="257.19" text-anchor="end">0.4</text>
<text class="t" x="487.90" y="241.43" text-anchor="end">0.6</text>
<text class="t" x="487.90" y="225.67" text-anchor="end">0.8</text>
<text class="t" x="487.90" y="209.91" text-anchor="end">1</text>
<text class="t" x="550.60" y="332.16" text-anchor="middle">1</text>
<text class="t" x="518.00" y="314.06" text-anchor="middle">2</text>
<text class="t" x="485.40" y="295.96" text-anchor="middle">3</text>
<text class="t" x="562.50" y="332.71" text-anchor="middle">1</text>
<text class="t" x="605.10" y="318.96" text-anchor="middle">2</text>
<text class="t" x="647.70" y="305.21" text-anchor="middle">3</text>
<polygon fill="#ecfc37" stroke="#ecfc37" stroke-width="0.5" points="609.70,239.21 577.10,202.27 534.50,248.65"/>
<line class="s" x1="609.70" y1="239.21" x2="577.10" y2="202.27"/>
<line class="s" x1="577.10" y1="202.27" x2="534.50" y2="248.65"/>
<polygon fill="#ecfc37" stroke="#ecfc37" stroke-width="0.5" points="567.10,213.95 609.70,239.21 534.50,248.65"/>
<line class="s" x1="567.10" y1="213.95" x2="609.70" y2="239.21"/>
<line class="s" x1="567.10" y1="213.95" x2="534.50" y2="248.65"/>
<polygon fill="#bbbe62" stroke="#bbbe62" stroke-width="0.5" points="567.10,213.95 534.50,248.65 491.90,243.17"/>
<line class="s" x1="567.10" y1="213.95" x2="534.50" y2="248.65"/>
<line class="s" x1="534.50" y1="248.65" x2="491.90" y2="243.17"/>
<polygon fill="#488eda" stroke="#488eda" stroke-width="0.5" points="642.30,238.08 609.70,239.21 567.10,213.95"/>
<line class="s" x1="642.30" y1="238.08" x2="609.70" y2="239.21"/>
<line class="s" x1="609.70" y1="239.21" x2="567.10" y2="213.95"/>
<polygon fill="#bbbe62" stroke="#bbbe62" stroke-width="0.5" points="524.50,243.22 567.10,213.95 491.90,243.17"/>
<line class="s" x1="524.50" y1="243.22" x2="567.10" y2="213.95"/>
<line class="s" x1="524.50" y1="243.22" x2="491.90" y2="243.17"/>
<polygon fill="#488eda" stroke="#488eda" stroke-width="0.5" points="599.70,271.21 642.30,238.08 567.10,213.95"/>
<line class="s" x1="599.70" y1="271.21" x2="642.30" y2="238.08"/>
<line class="s" x1="599.70" y1="271.21" x2="567.10" y2="213.95"/>
<path fill="#50b8c3" d="M524.50,243.22 L567.10,213.95 L599.70,271.21 Z M524.50,243.22 L599.70,271.21 L557.10,277.08 Z"/>
<line class="s" x1="599.70" y1="271.21" x2="567.10" y2="213.95"/>
<line class="s" x1="567.10" y1="213.95" x2="524.50" y2="243.22"/>
<line class="s" x1="557.10" y1="277.08" x2="599.70" y2="271.21"/>
<line class="s" x1="557.10" y1="277.08" x2="524.50" y2="243.22"/>
<rect x="659.20" y="182.00" width="11.15" height="142.50" fill="url(#par)" class="cbr"/>
<line class="a" x1="668.75" y1="309.61" x2="670.35" y2="309.61"/>
<text class="ct" x="672.55" y="311.97">0.4</text>
<line class="a" x1="668.75" y1="288.34" x2="670.35" y2="288.34"/>
<text class="ct" x="672.55" y="290.70">0.5</text>
<line class="a" x1="668.75" y1="267.07" x2="670.35" y2="267.07"/>
<text class="ct" x="672.55" y="269.44">0.6</text>
<line class="a" x1="668.75" y1="245.81" x2="670.35" y2="245.81"/>
<text class="ct" x="672.55" y="248.17">0.7</text>
<line class="a" x1="668.75" y1="224.54" x2="670.35" y2="224.54"/>
<text class="ct" x="672.55" y="226.90">0.8</text>
<line class="a" x1="668.75" y1="203.27" x2="670.35" y2="203.27"/>
<text class="ct" x="672.55" y="205.63">0.9</text>
<line class="a" x1="668.75" y1="182.00" x2="670.35" y2="182.00"/>
<text class="ct" x="672.55" y="184.36">1</text>
<text class="lab" x="556.50" y="346.00" text-anchor="middle">(f)</text>
<line class="g" x1="147.30" y1="490.00" x2="69.40" y2="453.80"/>
<line class="g" x1="198.30" y1="476.20" x2="120.40" y2="440.00"/>
<line class="g" x1="57.35" y1="485.70" x2="159.35" y2="458.10"/>
<line class="g" x1="18.40" y1="467.60" x2="120.40" y2="440.00"/>
<line class="g" x1="69.40" y1="453.80" x2="69.40" y2="374.80"/>
<line class="g" x1="120.40" y1="440.00" x2="120.40" y2="361.00"/>
<line class="g" x1="198.30" y1="476.20" x2="198.30" y2="397.20"/>
<line class="g" x1="159.35" y1="458.10" x2="159.35" y2="379.10"/>
<line class="g" x1="18.40" y1="451.80" x2="120.40" y2="424.20"/>
<line class="g" x1="198.30" y1="460.40" x2="120.40" y2="424.20"/>
<line class="g" x1="18.40" y1="436.00" x2="120.40" y2="408.40"/>
<line class="g" x1="198.30" y1="444.60" x2="120.40" y2="408.40"/>
<line class="g" x1="18.40" y1="420.20" x2="120.40" y2="392.60"/>
<line class="g" x1="198.30" y1="428.80" x2="120.40" y2="392.60"/>
<line class="g" x1="18.40" y1="404.40" x2="120.40" y2="376.80"/>
<line class="g" x1="198.30" y1="413.00" x2="120.40" y2="376.80"/>
<line class="g" x1="18.40" y1="388.60" x2="120.40" y2="361.00"/>
<line class="g" x1="198.30" y1="397.20" x2="120.40" y2="361.00"/>
<line class="a" x1="18.40" y1="467.60" x2="18.40" y2="388.60"/>
<line class="a" x1="96.30" y1="503.80" x2="18.40" y2="467.60"/>
<line class="a" x1="96.30" y1="503.80" x2="198.30" y2="476.20"/>
<line class="a" x1="18.40" y1="467.60" x2="16.10" y2="467.10"/>
<line class="a" x1="18.40" y1="451.80" x2="16.10" y2="451.30"/>
<line class="a" x1="18.40" y1="436.00" x2="16.10" y2="435.50"/>
<line class="a" x1="18.40" y1="420.20" x2="16.10" y2="419.70"/>
<line class="a" x1="18.40" y1="404.40" x2="16.10" y2="403.90"/>
<line class="a" x1="18.40" y1="388.60" x2="16.10" y2="388.10"/>
<line class="a" x1="96.30" y1="503.80" x2="93.49" y2="504.56"/>
<line class="a" x1="57.35" y1="485.70" x2="54.54" y2="486.46"/>
<line class="a" x1="18.40" y1="467.60" x2="15.59" y2="468.36"/>
<line class="a" x1="96.30" y1="503.80" x2="98.44" y2="504.80"/>
<line class="a" x1="147.30" y1="490.00" x2="149.44" y2="491.00"/>
<line class="a" x1="198.30" y1="476.20" x2="200.44" y2="477.20"/>
<text class="t" x="14.40" y="467.91" text-anchor="end">0</text>
<text class="t" x="14.40" y="452.11" text-anchor="end">0.2</text>
<text class="t" x="14.40" y="436.31" text-anchor="end">0.4</text>
<text class="t" x="14.40" y="420.51" text-anchor="end">0.6</text>
<text class="t" x="14.40" y="404.71" text-anchor="end">0.8</text>
<text class="t" x="14.40" y="388.91" text-anchor="end">1</text>
<text class="t" x="89.80" y="511.36" text-anchor="middle">1</text>
<text class="t" x="50.85" y="493.26" text-anchor="middle">2</text>
<text class="t" x="11.90" y="475.16" text-anchor="middle">3</text>
<text class="t" x="101.70" y="511.91" text-anchor="middle">1</text>
<text class="t" x="152.70" y="498.11" text-anchor="middle">2</text>
<text class="t" x="203.70" y="484.31" text-anchor="middle">3</text>
<polygon fill="#ecfc37" stroke="#ecfc37" stroke-width="0.5" points="159.35,418.84 120.40,380.99 69.40,400.79"/>
<line class="s" x1="159.35" y1="418.84" x2="120.40" y2="380.99"/>
<line class="s" x1="120.40" y1="380.99" x2="69.40" y2="400.79"/>
<polygon fill="#ecfc37" stroke="#ecfc37" stroke-width="0.5" points="108.35,392.90 159.35,418.84 69.40,400.79"/>
<line class="s" x1="108.35" y1="392.90" x2="159.35" y2="418.84"/>
<line class="s" x1="108.35" y1="392.90" x2="69.40" y2="400.79"/>
<path fill="#5ac3ae" d="M18.40,411.43 L69.40,400.79 L108.35,392.90 Z M18.40,411.43 L108.35,392.90 L57.35,438.62 Z"/>
<line class="s" x1="108.35" y1="392.90" x2="69.40" y2="400.79"/>
<line class="s" x1="69.40" y1="400.79" x2="18.40" y2="411.43"/>
<line class="s" x1="57.35" y1="438.62" x2="108.35" y2="392.90"/>
<line class="s" x1="57.35" y1="438.62" x2="18.40" y2="411.43"/>
<polygon fill="#35288c" stroke="#35288c" stroke-width="0.5" points="198.30,436.70 159.35,418.84 108.35,392.90"/>
<line class="s" x1="198.30" y1="436.70" x2="159.35" y2="418.84"/>
<line class="s" x1="159.35" y1="418.84" x2="108.35" y2="392.90"/>
<polygon fill="#35288c" stroke="#35288c" stroke-width="0.5" points="147.30,470.25 198.30,436.70 108.35,392.90"/>
<line class="s" x1="147.30" y1="470.25" x2="198.30" y2="436.70"/>
<line class="s" x1="147.30" y1="470.25" x2="108.35" y2="392.90"/>
<polygon fill="#c3bd5e" stroke="#c3bd5e" stroke-width="0.5" points="147.30,470.25 108.35,392.90 57.35,438.62"/>
<line class="s" x1="147.30" y1="470.25" x2="108.35" y2="392.90"/>
<line class="s" x1="108.35" y1="392.90" x2="57.35" y2="438.62"/>
<polygon fill="#c3bd5e" stroke="#c3bd5e" stroke-width="0.5" points="96.30,440.92 147.30,470.25 57.35,438.62"/>
<line class="s" x1="96.30" y1="440.92" x2="147.30" y2="470.25"/>
<line class="s" x1="96.30" y1="440.92" x2="57.35" y2="438.62"/>
<text class="lab" x="77.90" y="526.40" text-anchor="middle">(g)</text>
<line class="g" x1="360.50" y1="490.05" x2="295.30" y2="453.85"/>
<line class="g" x1="403.10" y1="476.30" x2="337.90" y2="440.10"/>
<line class="g" x1="285.30" y1="485.70" x2="370.50" y2="458.20"/>
<line class="g" x1="252.70" y1="467.60" x2="337.90" y2="440.10"/>
<line class="g" x1="295.30" y1="453.85" x2="295.30" y2="375.05"/>
<line class="g" x1="337.90" y1="440.10" x2="337.90" y2="361.30"/>
<line class="g" x1="403.10" y1="476.30" x2="403.10" y2="397.50"/>
<line class="g" x1="370.50" y1="458.20" x2="370.50" y2="379.40"/>
<line class="g" x1="252.70" y1="451.84" x2="337.90" y2="424.34"/>
<line class="g" x1="403.10" y1="460.54" x2="337.90" y2="424.34"/>
<line class="g" x1="252.70" y1="436.08" x2="337.90" y2="408.58"/>
<line class="g" x1="403.10" y1="444.78" x2="337.90" y2="408.58"/>
<line class="g" x1="252.70" y1="420.32" x2="337.90" y2="392.82"/>
<line class="g" x1="403.10" y1="429.02" x2="337.90" y2="392.82"/>
<line class="g" x1="252.70" y1="404.56" x2="337.90" y2="377.06"/>
<line class="g" x1="403.10" y1="413.26" x2="337.90" y2="377.06"/>
<line class="g" x1="252.70" y1="388.80" x2="337.90" y2="361.30"/>
<line class="g" x1="403.10" y1="397.50" x2="337.90" y2="361.30"/>
<line class="a" x1="252.70" y1="467.60" x2="252.70" y2="388.80"/>
<line class="a" x1="317.90" y1="503.80" x2="252.70" y2="467.60"/>
<line class="a" x1="317.90" y1="503.80" x2="403.10" y2="476.30"/>
<line class="a" x1="252.70" y1="467.60" x2="250.40" y2="467.10"/>
<line class="a" x1="252.70" y1="451.84" x2="250.40" y2="451.34"/>
<line class="a" x1="252.70" y1="436.08" x2="250.40" y2="435.58"/>
<line class="a" x1="252.70" y1="420.32" x2="250.40" y2="419.82"/>
<line class="a" x1="252.70" y1="404.56" x2="250.40" y2="404.06"/>
<line class="a" x1="252.70" y1="388.80" x2="250.40" y2="388.30"/>
<line class="a" x1="317.90" y1="503.80" x2="315.56" y2="504.56"/>
<line class="a" x1="285.30" y1="485.70" x2="282.96" y2="486.46"/>
<line class="a" x1="252.70" y1="467.60" x2="250.36" y2="468.36"/>
<line class="a" x1="317.90" y1="503.80" x2="319.69" y2="504.80"/>
<line class="a" x1="360.50" y1="490.05" x2="362.29" y2="491.05"/>
<line class="a" x1="403.10" y1="476.30" x2="404.89" y2="477.30"/>
<text class="t" x="248.70" y="467.91" text-anchor="end">0</text>
<text class="t" x="248.70" y="452.15" text-anchor="end">0.2</text>
<text class="t" x="248.70" y="436.39" text-anchor="end">0.4</text>
<text class="t" x="248.70" y="420.63" text-anchor="end">0.6</text>
<text class="t" x="248.70" y="404.87" text-anchor="end">0.8</text>
<text class="t" x="248.70" y="389.11" text-anchor="end">1</text>
<text class="t" x="311.40" y="511.36" text-anchor="middle">1</text>
<text class="t" x="278.80" y="493.26" text-anchor="middle">2</text>
<text class="t" x="246.20" y="475.16" text-anchor="middle">3</text>
<text class="t" x="323.30" y="511.91" text-anchor="middle">1</text>
<text class="t" x="365.90" y="498.16" text-anchor="middle">2</text>
<text class="t" x="408.50" y="484.41" text-anchor="middle">3</text>
<polygon fill="#ecfc37" stroke="#ecfc37" stroke-width="0.5" points="370.50,418.17 337.90,361.30 295.30,428.79"/>
<line class="s" x1="370.50" y1="418.17" x2="337.90" y2="361.30"/>
<line class="s" x1="337.90" y1="361.30" x2="295.30" y2="428.79"/>
<polygon fill="#ecfc37" stroke="#ecfc37" stroke-width="0.5" points="327.90,393.15 370.50,418.17 295.30,428.79"/>
<line class="s" x1="327.90" y1="393.15" x2="370.50" y2="418.17"/>
<line class="s" x1="327.90" y1="393.15" x2="295.30" y2="428.79"/>
<polygon fill="#5ac3ae" stroke="#5ac3ae" stroke-width="0.5" points="327.90,393.15 295.30,428.79 252.70,388.80"/>
<line class="s" x1="327.90" y1="393.15" x2="295.30" y2="428.79"/>
<line class="s" x1="295.30" y1="428.79" x2="252.70" y2="388.80"/>
<polygon fill="#35288c" stroke="#35288c" stroke-width="0.5" points="403.10,397.50 370.50,418.17 327.90,393.15"/>
<line class="s" x1="403.10" y1="397.50" x2="370.50" y2="418.17"/>
<line class="s" x1="370.50" y1="418.17" x2="327.90" y2="393.15"/>
<polygon fill="#5ac3ae" stroke="#5ac3ae" stroke-width="0.5" points="285.30,438.58 327.90,393.15 252.70,388.80"/>
<line class="s" x1="285.30" y1="438.58" x2="327.90" y2="393.15"/>
<line class="s" x1="285.30" y1="438.58" x2="252.70" y2="388.80"/>
<polygon fill="#35288c" stroke="#35288c" stroke-width="0.5" points="360.50,469.96 403.10,397.50 327.90,393.15"/>
<line class="s" x1="360.50" y1="469.96" x2="403.10" y2="397.50"/>
<line class="s" x1="360.50" y1="469.96" x2="327.90" y2="393.15"/>
<polygon fill="#c8bc5c" stroke="#c8bc5c" stroke-width="0.5" points="360.50,469.96 327.90,393.15 285.30,438.58"/>
<line class="s" x1="360.50" y1="469.96" x2="327.90" y2="393.15"/>
<line class="s" x1="327.90" y1="393.15" x2="285.30" y2="438.58"/>
<polygon fill="#c8bc5c" stroke="#c8bc5c" stroke-width="0.5" points="317.90,440.21 360.50,469.96 285.30,438.58"/>
<line class="s" x1="317.90" y1="440.21" x2="360.50" y2="469.96"/>
<line class="s" x1="317.90" y1="440.21" x2="285.30" y2="438.58"/>
<rect x="420.00" y="361.20" width="11.15" height="142.50" fill="url(#par)" class="cbr"/>
<line class="a" x1="429.55" y1="495.09" x2="431.15" y2="495.09"/>
<text class="ct" x="433.35" y="497.45">0.3</text>
<line class="a" x1="429.55" y1="475.97" x2="431.15" y2="475.97"/>
<text class="ct" x="433.35" y="478.33">0.4</text>
<line class="a" x1="429.55" y1="456.84" x2="431.15" y2="456.84"/>
<text class="ct" x="433.35" y="459.20">0.5</text>
<line class="a" x1="429.55" y1="437.71" x2="431.15" y2="437.71"/>
<text class="ct" x="433.35" y="440.07">0.6</text>
<line class="a" x1="429.55" y1="418.58" x2="431.15" y2="418.58"/>
<text class="ct" x="433.35" y="420.94">0.7</text>
<line class="a" x1="429.55" y1="399.46" x2="431.15" y2="399.46"/>
<text class="ct" x="433.35" y="401.82">0.8</text>
<line class="a" x1="429.55" y1="380.33" x2="431.15" y2="380.33"/>
<text class="ct" x="433.35" y="382.69">0.9</text>
<line class="a" x1="429.55" y1="361.20" x2="431.15" y2="361.20"/>
<text class="ct" x="433.35" y="363.56">1</text>
<text class="lab" x="317.65" y="524.70" text-anchor="middle">(h)</text>
<line class="g" x1="599.70" y1="490.05" x2="534.50" y2="453.85"/>
<line class="g" x1="642.30" y1="476.30" x2="577.10" y2="440.10"/>
<line class="g" x1="524.50" y1="485.70" x2="609.70" y2="458.20"/>
<line class="g" x1="491.90" y1="467.60" x2="577.10" y2="440.10"/>
<line class="g" x1="534.50" y1="453.85" x2="534.50" y2="375.05"/>
<line class="g" x1="577.10" y1="440.10" x2="577.10" y2="361.30"/>
<line class="g" x1="642.30" y1="476.30" x2="642.30" y2="397.50"/>
<line class="g" x1="609.70" y1="458.20" x2="609.70" y2="379.40"/>
<line class="g" x1="491.90" y1="451.84" x2="577.10" y2="424.34"/>
<line class="g" x1="642.30" y1="460.54" x2="577.10" y2="424.34"/>
<line class="g" x1="491.90" y1="436.08" x2="577.10" y2="408.58"/>
<line class="g" x1="642.30" y1="444.78" x2="577.10" y2="408.58"/>
<line class="g" x1="491.90" y1="420.32" x2="577.10" y2="392.82"/>
<line class="g" x1="642.30" y1="429.02" x2="577.10" y2="392.82"/>
<line class="g" x1="491.90" y1="404.56" x2="577.10" y2="377.06"/>
<line class="g" x1="642.30" y1="413.26" x2="577.10" y2="377.06"/>
<line class="g" x1="491.90" y1="388.80" x2="577.10" y2="361.30"/>
<line class="g" x1="642.30" y1="397.50" x2="577.10" y2="361.30"/>
<line class="a" x1="491.90" y1="467.60" x2="491.90" y2="388.80"/>
<line class="a" x1="557.10" y1="503.80" x2="491.90" y2="467.60"/>
<line class="a" x1="557.10" y1="503.80" x2="642.30" y2="476.30"/>
<line class="a" x1="491.90" y1="467.60" x2="489.60" y2="467.10"/>
<line class="a" x1="491.90" y1="451.84" x2="489.60" y2="451.34"/>
<line class="a" x1="491.90" y1="436.08" x2="489.60" y2="435.58"/>
<line class="a" x1="491.90" y1="420.32" x2="489.60" y2="419.82"/>
<line class="a" x1="491.90" y1="404.56" x2="489.60" y2="404.06"/>
<line class="a" x1="491.90" y1="388.80" x2="489.60" y2="388.30"/>
<line class="a" x1="557.10" y1="503.80" x2="554.76" y2="504.56"/>
<line class="a" x1="524.50" y1="485.70" x2="522.16" y2="486.46"/>
<line class="a" x1="491.90" y1="467.60" x2="489.56" y2="468.36"/>
<line class="a" x1="557.10" y1="503.80" x2="558.89" y2="504.80"/>
<line class="a" x1="599.70" y1="490.05" x2="601.49" y2="491.05"/>
<line class="a" x1="642.30" y1="476.30" x2="644.09" y2="477.30"/>
<text class="t" x="487.90" y="467.91" text-anchor="end">0</text>
<text class="t" x="487.90" y="452.15" text-anchor="end">0.2</text>
<text class="t" x="487.90" y="436.39" text-anchor="end">0.4</text>
<text class="t" x="487.90" y="420.63" text-anchor="end">0.6</text>
<text class="t" x="487.90" y="404.87" text-anchor="end">0.8</text>
<text class="t" x="487.90" y="389.11" text-anchor="end">1</text>
<text class="t" x="550.60" y="511.36" text-anchor="middle">1</text>
<text class="t" x="518.00" y="493.26" text-anchor="middle">2</text>
<text class="t" x="485.40" y="475.16" text-anchor="middle">3</text>
<text class="t" x="562.50" y="511.91" text-anchor="middle">1</text>
<text class="t" x="605.10" y="498.16" text-anchor="middle">2</text>
<text class="t" x="647.70" y="484.41" text-anchor="middle">3</text>
<polygon fill="#8fc777" stroke="#8fc777" stroke-width="0.5" points="609.70,418.80 577.10,361.30 534.50,427.22"/>
<line class="s" x1="609.70" y1="418.80" x2="577.10" y2="361.30"/>
<line class="s" x1="577.10" y1="361.30" x2="534.50" y2="427.22"/>
<polygon fill="#8fc777" stroke="#8fc777" stroke-width="0.5" points="567.10,413.40 609.70,418.80 534.50,427.22"/>
<line class="s" x1="567.10" y1="413.40" x2="609.70" y2="418.80"/>
<line class="s" x1="567.10" y1="413.40" x2="534.50" y2="427.22"/>
<polygon fill="#4fb7c4" stroke="#4fb7c4" stroke-width="0.5" points="567.10,413.40 534.50,427.22 491.90,422.92"/>
<line class="s" x1="567.10" y1="413.40" x2="534.50" y2="427.22"/>
<line class="s" x1="534.50" y1="427.22" x2="491.90" y2="422.92"/>
<polygon fill="#468cdc" stroke="#468cdc" stroke-width="0.5" points="642.30,417.59 609.70,418.80 567.10,413.40"/>
<line class="s" x1="642.30" y1="417.59" x2="609.70" y2="418.80"/>
<line class="s" x1="609.70" y1="418.80" x2="567.10" y2="413.40"/>
<polygon fill="#4fb7c4" stroke="#4fb7c4" stroke-width="0.5" points="524.50,438.10 567.10,413.40 491.90,422.92"/>
<line class="s" x1="524.50" y1="438.10" x2="567.10" y2="413.40"/>
<line class="s" x1="524.50" y1="438.10" x2="491.90" y2="422.92"/>
<polygon fill="#468cdc" stroke="#468cdc" stroke-width="0.5" points="599.70,450.33 642.30,417.59 567.10,413.40"/>
<line class="s" x1="599.70" y1="450.33" x2="642.30" y2="417.59"/>
<line class="s" x1="599.70" y1="450.33" x2="567.10" y2="413.40"/>
<path fill="#4fb7c4" d="M524.50,438.10 L567.10,413.40 L599.70,450.33 Z M524.50,438.10 L599.70,450.33 L557.10,456.13 Z"/>
<line class="s" x1="599.70" y1="450.33" x2="567.10" y2="413.40"/>
<line class="s" x1="567.10" y1="413.40" x2="524.50" y2="438.10"/>
<line class="s" x1="557.10" y1="456.13" x2="599.70" y2="450.33"/>
<line class="s" x1="557.10" y1="456.13" x2="524.50" y2="438.10"/>
<rect x="659.20" y="361.20" width="11.15" height="142.50" fill="url(#par)" class="cbr"/>
<line class="a" x1="668.75" y1="490.35" x2="670.35" y2="490.35"/>
<text class="ct" x="672.55" y="492.72">0.4</text>
<line class="a" x1="668.75" y1="468.83" x2="670.35" y2="468.83"/>
<text class="ct" x="672.55" y="471.19">0.5</text>
<line class="a" x1="668.75" y1="447.30" x2="670.35" y2="447.30"/>
<text class="ct" x="672.55" y="449.66">0.6</text>
<line class="a" x1="668.75" y1="425.78" x2="670.35" y2="425.78"/>
<text class="ct" x="672.55" y="428.14">0.7</text>
<line class="a" x1="668.75" y1="404.25" x2="670.35" y2="404.25"/>
<text class="ct" x="672.55" y="406.61">0.8</text>
<line class="a" x1="668.75" y1="382.73" x2="670.35" y2="382.73"/>
<text class="ct" x="672.55" y="385.09">0.9</text>
<line class="a" x1="668.75" y1="361.20" x2="670.35" y2="361.20"/>
<text class="ct" x="672.55" y="363.56">1</text>
<text class="lab" x="557.65" y="523.80" text-anchor="middle">(i)</text>
<line class="g" x1="121.20" y1="669.15" x2="56.00" y2="632.95"/>
<line class="g" x1="163.80" y1="655.40" x2="98.60" y2="619.20"/>
<line class="g" x1="46.00" y1="664.80" x2="131.20" y2="637.30"/>
<line class="g" x1="13.40" y1="646.70" x2="98.60" y2="619.20"/>
<line class="g" x1="56.00" y1="632.95" x2="56.00" y2="554.15"/>
<line class="g" x1="98.60" y1="619.20" x2="98.60" y2="540.40"/>
<line class="g" x1="163.80" y1="655.40" x2="163.80" y2="576.60"/>
<line class="g" x1="131.20" y1="637.30" x2="131.20" y2="558.50"/>
<line class="g" x1="13.40" y1="630.94" x2="98.60" y2="603.44"/>
<line class="g" x1="163.80" y1="639.64" x2="98.60" y2="603.44"/>
<line class="g" x1="13.40" y1="615.18" x2="98.60" y2="587.68"/>
<line class="g" x1="163.80" y1="623.88" x2="98.60" y2="587.68"/>
<line class="g" x1="13.40" y1="599.42" x2="98.60" y2="571.92"/>
<line class="g" x1="163.80" y1="608.12" x2="98.60" y2="571.92"/>
<line class="g" x1="13.40" y1="583.66" x2="98.60" y2="556.16"/>
<line class="g" x1="163.80" y1="592.36" x2="98.60" y2="556.16"/>
<line class="g" x1="13.40" y1="567.90" x2="98.60" y2="540.40"/>
<line class="g" x1="163.80" y1="576.60" x2="98.60" y2="540.40"/>
<line class="a" x1="13.40" y1="646.70" x2="13.40" y2="567.90"/>
<line class="a" x1="78.60" y1="682.90" x2="13.40" y2="646.70"/>
<line class="a" x1="78.60" y1="682.90" x2="163.80" y2="655.40"/>
<line class="a" x1="13.40" y1="646.70" x2="11.10" y2="646.20"/>
<line class="a" x1="13.40" y1="630.94" x2="11.10" y2="630.44"/>
<line class="a" x1="13.40" y1="615.18" x2="11.10" y2="614.68"/>
<line class="a" x1="13.40" y1="599.42" x2="11.10" y2="598.92"/>
<line class="a" x1="13.40" y1="583.66" x2="11.10" y2="583.16"/>
<line class="a" x1="13.40" y1="567.90" x2="11.10" y2="567.40"/>
<line class="a" x1="78.60" y1="682.90" x2="76.26" y2="683.66"/>
<line class="a" x1="46.00" y1="664.80" x2="43.66" y2="665.56"/>
<line class="a" x1="13.40" y1="646.70" x2="11.06" y2="647.46"/>
<line class="a" x1="78.60" y1="682.90" x2="80.39" y2="683.90"/>
<line class="a" x1="121.20" y1="669.15" x2="122.99" y2="670.15"/>
<line class="a" x1="163.80" y1="655.40" x2="165.59" y2="656.40"/>
<text class="t" x="9.40" y="647.01" text-anchor="end">0</text>
<text class="t" x="9.40" y="631.25" text-anchor="end">0.2</text>
<text class="t" x="9.40" y="615.49" text-anchor="end">0.4</text>
<text class="t" x="9.40" y="599.73" text-anchor="end">0.6</text>
<text class="t" x="9.40" y="583.97" text-anchor="end">0.8</text>
<text class="t" x="9.40" y="568.21" text-anchor="end">1</text>
<text class="t" x="72.10" y="690.46" text-anchor="middle">1</text>
<text class="t" x="39.50" y="672.36" text-anchor="middle">2</text>
<text class="t" x="6.90" y="654.26" text-anchor="middle">3</text>
<text class="t" x="84.00" y="691.01" text-anchor="middle">1</text>
<text class="t" x="126.60" y="677.26" text-anchor="middle">2</text>
<text class="t" x="169.20" y="663.51" text-anchor="middle">3</text>
<path fill="#4aa4d1" d="M56.00,606.63 L98.60,540.40 L131.20,597.90 Z M56.00,606.63 L131.20,597.90 L88.60,611.65 Z"/>
<line class="s" x1="131.20" y1="597.90" x2="98.60" y2="540.40"/>
<line class="s" x1="98.60" y1="540.40" x2="56.00" y2="606.63"/>
<line class="s" x1="88.60" y1="611.65" x2="131.20" y2="597.90"/>
<line class="s" x1="88.60" y1="611.65" x2="56.00" y2="606.63"/>
<path fill="#5ac3ad" d="M13.40,602.41 L56.00,606.63 L88.60,611.65 Z M13.40,602.41 L88.60,611.65 L46.00,617.52 Z"/>
<line class="s" x1="88.60" y1="611.65" x2="56.00" y2="606.63"/>
<line class="s" x1="56.00" y1="606.63" x2="13.40" y2="602.41"/>
<line class="s" x1="46.00" y1="617.52" x2="88.60" y2="611.65"/>
<line class="s" x1="46.00" y1="617.52" x2="13.40" y2="602.41"/>
<polygon fill="#35288c" stroke="#35288c" stroke-width="0.5" points="163.80,576.60 131.20,597.90 88.60,611.65"/>
<line class="s" x1="163.80" y1="576.60" x2="131.20" y2="597.90"/>
<line class="s" x1="131.20" y1="597.90" x2="88.60" y2="611.65"/>
<polygon fill="#35288c" stroke="#35288c" stroke-width="0.5" points="121.20,648.90 163.80,576.60 88.60,611.65"/>
<line class="s" x1="121.20" y1="648.90" x2="163.80" y2="576.60"/>
<line class="s" x1="121.20" y1="648.90" x2="88.60" y2="611.65"/>
<path fill="#5ac3ad" d="M46.00,617.52 L88.60,611.65 L121.20,648.90 Z M46.00,617.52 L121.20,648.90 L78.60,635.62 Z"/>
<line class="s" x1="121.20" y1="648.90" x2="88.60" y2="611.65"/>
<line class="s" x1="88.60" y1="611.65" x2="46.00" y2="617.52"/>
<line class="s" x1="78.60" y1="635.62" x2="121.20" y2="648.90"/>
<line class="s" x1="78.60" y1="635.62" x2="46.00" y2="617.52"/>
<rect x="180.70" y="540.30" width="11.15" height="142.50" fill="url(#par)" class="cbr"/>
<line class="a" x1="190.25" y1="674.55" x2="191.85" y2="674.55"/>
<text class="ct" x="194.05" y="676.91">0.3</text>
<line class="a" x1="190.25" y1="655.37" x2="191.85" y2="655.37"/>
<text class="ct" x="194.05" y="657.74">0.4</text>
<line class="a" x1="190.25" y1="636.20" x2="191.85" y2="636.20"/>
<text class="ct" x="194.05" y="638.56">0.5</text>
<line class="a" x1="190.25" y1="617.02" x2="191.85" y2="617.02"/>
<text class="ct" x="194.05" y="619.38">0.6</text>
<line class="a" x1="190.25" y1="597.84" x2="191.85" y2="597.84"/>
<text class="ct" x="194.05" y="600.20">0.7</text>
<line class="a" x1="190.25" y1="578.66" x2="191.85" y2="578.66"/>
<text class="ct" x="194.05" y="581.02">0.8</text>
<line class="a" x1="190.25" y1="559.48" x2="191.85" y2="559.48"/>
<text class="ct" x="194.05" y="561.84">0.9</text>
<line class="a" x1="190.25" y1="540.30" x2="191.85" y2="540.30"/>
<text class="ct" x="194.05" y="542.66">1</text>
<text class="lab" x="74.15" y="701.70" text-anchor="middle">(j)</text>
<line class="g" x1="360.50" y1="669.15" x2="295.30" y2="632.95"/>
<line class="g" x1="403.10" y1="655.40" x2="337.90" y2="619.20"/>
<line class="g" x1="285.30" y1="664.80" x2="370.50" y2="637.30"/>
<line class="g" x1="252.70" y1="646.70" x2="337.90" y2="619.20"/>
<line class="g" x1="295.30" y1="632.95" x2="295.30" y2="554.15"/>
<line class="g" x1="337.90" y1="619.20" x2="337.90" y2="540.40"/>
<line class="g" x1="403.10" y1="655.40" x2="403.10" y2="576.60"/>
<line class="g" x1="370.50" y1="637.30" x2="370.50" y2="558.50"/>
<line class="g" x1="252.70" y1="630.94" x2="337.90" y2="603.44"/>
<line class="g" x1="403.10" y1="639.64" x2="337.90" y2="603.44"/>
<line class="g" x1="252.70" y1="615.18" x2="337.90" y2="587.68"/>
<line class="g" x1="403.10" y1="623.88" x2="337.90" y2="587.68"/>
<line class="g" x1="252.70" y1="599.42" x2="337.90" y2="571.92"/>
<line class="g" x1="403.10" y1="608.12" x2="337.90" y2="571.92"/>
<line class="g" x1="252.70" y1="583.66" x2="337.90" y2="556.16"/>
<line class="g" x1="403.10" y1="592.36" x2="337.90" y2="556.16"/>
<line class="g" x1="252.70" y1="567.90" x2="337.90" y2="540.40"/>
<line class="g" x1="403.10" y1="576.60" x2="337.90" y2="540.40"/>
<line class="a" x1="252.70" y1="646.70" x2="252.70" y2="567.90"/>
<line class="a" x1="317.90" y1="682.90" x2="252.70" y2="646.70"/>
<line class="a" x1="317.90" y1="682.90" x2="403.10" y2="655.40"/>
<line class="a" x1="252.70" y1="646.70" x2="250.40" y2="646.20"/>
<line class="a" x1="252.70" y1="630.94" x2="250.40" y2="630.44"/>
<line class="a" x1="252.70" y1="615.18" x2="250.40" y2="614.68"/>
<line class="a" x1="252.70" y1="599.42" x2="250.40" y2="598.92"/>
<line class="a" x1="252.70" y1="583.66" x2="250.40" y2="583.16"/>
<line class="a" x1="252.70" y1="567.90" x2="250.40" y2="567.40"/>
<line class="a" x1="317.90" y1="682.90" x2="315.56" y2="683.66"/>
<line class="a" x1="285.30" y1="664.80" x2="282.96" y2="665.56"/>
<line class="a" x1="252.70" y1="646.70" x2="250.36" y2="647.46"/>
<line class="a" x1="317.90" y1="682.90" x2="319.69" y2="683.90"/>
<line class="a" x1="360.50" y1="669.15" x2="362.29" y2="670.15"/>
<line class="a" x1="403.10" y1="655.40" x2="404.89" y2="656.40"/>
<text class="t" x="248.70" y="647.01" text-anchor="end">0</text>
<text class="t" x="248.70" y="631.25" text-anchor="end">0.2</text>
<text class="t" x="248.70" y="615.49" text-anchor="end">0.4</text>
<text class="t" x="248.70" y="599.73" text-anchor="end">0.6</text>
<text class="t" x="248.70" y="583.97" text-anchor="end">0.8</text>
<text class="t" x="248.70" y="568.21" text-anchor="end">1</text>
<text class="t" x="311.40" y="690.46" text-anchor="middle">1</text>
<text class="t" x="278.80" y="672.36" text-anchor="middle">2</text>
<text class="t" x="246.20" y="654.26" text-anchor="middle">3</text>
<text class="t" x="323.30" y="691.01" text-anchor="middle">1</text>
<text class="t" x="365.90" y="677.26" text-anchor="middle">2</text>
<text class="t" x="408.50" y="663.51" text-anchor="middle">3</text>
<path fill="#ecfc37" d="M370.50,558.50 L337.90,579.80 L295.30,607.50 Z M327.90,572.25 L370.50,558.50 L295.30,607.50 Z"/>
<line class="s" x1="370.50" y1="558.50" x2="337.90" y2="579.80"/>
<line class="s" x1="337.90" y1="579.80" x2="295.30" y2="607.50"/>
<line class="s" x1="327.90" y1="572.25" x2="370.50" y2="558.50"/>
<line class="s" x1="327.90" y1="572.25" x2="295.30" y2="607.50"/>
<polygon fill="#c1bd5f" stroke="#c1bd5f" stroke-width="0.5" points="327.90,572.25 295.30,607.50 252.70,612.89"/>
<line class="s" x1="327.90" y1="572.25" x2="295.30" y2="607.50"/>
<line class="s" x1="295.30" y1="607.50" x2="252.70" y2="612.89"/>
<path fill="#35288c" d="M327.90,572.25 L370.50,558.50 L403.10,596.62 Z M327.90,572.25 L403.10,596.62 L360.50,649.45 Z"/>
<line class="s" x1="403.10" y1="596.62" x2="370.50" y2="558.50"/>
<line class="s" x1="370.50" y1="558.50" x2="327.90" y2="572.25"/>
<line class="s" x1="360.50" y1="649.45" x2="403.10" y2="596.62"/>
<line class="s" x1="360.50" y1="649.45" x2="327.90" y2="572.25"/>
<polygon fill="#c1bd5f" stroke="#c1bd5f" stroke-width="0.5" points="285.30,602.39 327.90,572.25 252.70,612.89"/>
<line class="s" x1="285.30" y1="602.39" x2="327.90" y2="572.25"/>
<line class="s" x1="285.30" y1="602.39" x2="252.70" y2="612.89"/>
<path fill="#5bc4ab" d="M285.30,602.39 L327.90,572.25 L360.50,649.45 Z M285.30,602.39 L360.50,649.45 L317.90,635.62 Z"/>
<line class="s" x1="360.50" y1="649.45" x2="327.90" y2="572.25"/>
<line class="s" x1="327.90" y1="572.25" x2="285.30" y2="602.39"/>
<line class="s" x1="317.90" y1="635.62" x2="360.50" y2="649.45"/>
<line class="s" x1="317.90" y1="635.62" x2="285.30" y2="602.39"/>
<rect x="420.00" y="540.30" width="11.15" height="142.50" fill="url(#par)" class="cbr"/>
<line class="a" x1="429.55" y1="673.30" x2="431.15" y2="673.30"/>
<text class="ct" x="433.35" y="675.66">0.3</text>
<line class="a" x1="429.55" y1="654.30" x2="431.15" y2="654.30"/>
<text class="ct" x="433.35" y="656.66">0.4</text>
<line class="a" x1="429.55" y1="635.30" x2="431.15" y2="635.30"/>
<text class="ct" x="433.35" y="637.66">0.5</text>
<line class="a" x1="429.55" y1="616.30" x2="431.15" y2="616.30"/>
<text class="ct" x="433.35" y="618.66">0.6</text>
<line class="a" x1="429.55" y1="597.30" x2="431.15" y2="597.30"/>
<text class="ct" x="433.35" y="599.66">0.7</text>
<line class="a" x1="429.55" y1="578.30" x2="431.15" y2="578.30"/>
<text class="ct" x="433.35" y="580.66">0.8</text>
<line class="a" x1="429.55" y1="559.30" x2="431.15" y2="559.30"/>
<text class="ct" x="433.35" y="561.66">0.9</text>
<line class="a" x1="429.55" y1="540.30" x2="431.15" y2="540.30"/>
<text class="ct" x="433.35" y="542.66">1</text>
<text class="lab" x="316.55" y="701.70" text-anchor="middle">(k)</text>
<line class="g" x1="599.70" y1="669.15" x2="534.50" y2="632.95"/>
<line class="g" x1="642.30" y1="655.40" x2="577.10" y2="619.20"/>
<line class="g" x1="524.50" y1="664.80" x2="609.70" y2="637.30"/>
<line class="g" x1="491.90" y1="646.70" x2="577.10" y2="619.20"/>
<line class="g" x1="534.50" y1="632.95" x2="534.50" y2="554.15"/>
<line class="g" x1="577.10" y1="619.20" x2="577.10" y2="540.40"/>
<line class="g" x1="642.30" y1="655.40" x2="642.30" y2="576.60"/>
<line class="g" x1="609.70" y1="637.30" x2="609.70" y2="558.50"/>
<line class="g" x1="491.90" y1="630.94" x2="577.10" y2="603.44"/>
<line class="g" x1="642.30" y1="639.64" x2="577.10" y2="603.44"/>
<line class="g" x1="491.90" y1="615.18" x2="577.10" y2="587.68"/>
<line class="g" x1="642.30" y1="623.88" x2="577.10" y2="587.68"/>
<line class="g" x1="491.90" y1="599.42" x2="577.10" y2="571.92"/>
<line class="g" x1="642.30" y1="608.12" x2="577.10" y2="571.92"/>
<line class="g" x1="491.90" y1="583.66" x2="577.10" y2="556.16"/>
<line class="g" x1="642.30" y1="592.36" x2="577.10" y2="556.16"/>
<line class="g" x1="491.90" y1="567.90" x2="577.10" y2="540.40"/>
<line class="g" x1="642.30" y1="576.60" x2="577.10" y2="540.40"/>
<line class="a" x1="491.90" y1="646.70" x2="491.90" y2="567.90"/>
<line class="a" x1="557.10" y1="682.90" x2="491.90" y2="646.70"/>
<line class="a" x1="557.10" y1="682.90" x2="642.30" y2="655.40"/>
<line class="a" x1="491.90" y1="646.70" x2="489.60" y2="646.20"/>
<line class="a" x1="491.90" y1="630.94" x2="489.60" y2="630.44"/>
<line class="a" x1="491.90" y1="615.18" x2="489.60" y2="614.68"/>
<line class="a" x1="491.90" y1="599.42" x2="489.60" y2="598.92"/>
<line class="a" x1="491.90" y1="583.66" x2="489.60" y2="583.16"/>
<line class="a" x1="491.90" y1="567.90" x2="489.60" y2="567.40"/>
<line class="a" x1="557.10" y1="682.90" x2="554.76" y2="683.66"/>
<line class="a" x1="524.50" y1="664.80" x2="522.16" y2="665.56"/>
<line class="a" x1="491.90" y1="646.70" x2="489.56" y2="647.46"/>
<line class="a" x1="557.10" y1="682.90" x2="558.89" y2="683.90"/>
<line class="a" x1="599.70" y1="669.15" x2="601.49" y2="670.15"/>
<line class="a" x1="642.30" y1="655.40" x2="644.09" y2="656.40"/>
<text class="t" x="487.90" y="647.01" text-anchor="end">0</text>
<text class="t" x="487.90" y="631.25" text-anchor="end">0.2</text>
<text class="t" x="487.90" y="615.49" text-anchor="end">0.4</text>
<text class="t" x="487.90" y="599.73" text-anchor="end">0.6</text>
<text class="t" x="487.90" y="583.97" text-anchor="end">0.8</text>
<text class="t" x="487.90" y="568.21" text-anchor="end">1</text>
<text class="t" x="550.60" y="690.46" text-anchor="middle">1</text>
<text class="t" x="518.00" y="672.36" text-anchor="middle">2</text>
<text class="t" x="485.40" y="654.26" text-anchor="middle">3</text>
<text class="t" x="562.50" y="691.01" text-anchor="middle">1</text>
<text class="t" x="605.10" y="677.26" text-anchor="middle">2</text>
<text class="t" x="647.70" y="663.51" text-anchor="middle">3</text>
<polygon fill="#81c87e" stroke="#81c87e" stroke-width="0.5" points="609.70,558.50 577.10,579.80 534.50,580.23"/>
<line class="s" x1="609.70" y1="558.50" x2="577.10" y2="579.80"/>
<line class="s" x1="577.10" y1="579.80" x2="534.50" y2="580.23"/>
<polygon fill="#81c87e" stroke="#81c87e" stroke-width="0.5" points="567.10,596.60 609.70,558.50 534.50,580.23"/>
<line class="s" x1="567.10" y1="596.60" x2="609.70" y2="558.50"/>
<line class="s" x1="567.10" y1="596.60" x2="534.50" y2="580.23"/>
<path fill="#5bc4ac" d="M491.90,612.89 L534.50,580.23 L567.10,596.60 Z M491.90,612.89 L567.10,596.60 L524.50,617.60 Z"/>
<line class="s" x1="567.10" y1="596.60" x2="534.50" y2="580.23"/>
<line class="s" x1="534.50" y1="580.23" x2="491.90" y2="612.89"/>
<line class="s" x1="524.50" y1="617.60" x2="567.10" y2="596.60"/>
<line class="s" x1="524.50" y1="617.60" x2="491.90" y2="612.89"/>
<path fill="#35288c" d="M567.10,596.60 L609.70,558.50 L642.30,596.62 Z M567.10,596.60 L642.30,596.62 L599.70,649.45 Z"/>
<line class="s" x1="642.30" y1="596.62" x2="609.70" y2="558.50"/>
<line class="s" x1="609.70" y1="558.50" x2="567.10" y2="596.60"/>
<line class="s" x1="599.70" y1="649.45" x2="642.30" y2="596.62"/>
<line class="s" x1="599.70" y1="649.45" x2="567.10" y2="596.60"/>
<path fill="#3e7ae4" d="M524.50,617.60 L567.10,596.60 L599.70,649.45 Z M524.50,617.60 L599.70,649.45 L557.10,651.54 Z"/>
<line class="s" x1="599.70" y1="649.45" x2="567.10" y2="596.60"/>
<line class="s" x1="567.10" y1="596.60" x2="524.50" y2="617.60"/>
<line class="s" x1="557.10" y1="651.54" x2="599.70" y2="649.45"/>
<line class="s" x1="557.10" y1="651.54" x2="524.50" y2="617.60"/>
<rect x="659.20" y="540.30" width="11.15" height="142.50" fill="url(#par)" class="cbr"/>
<line class="a" x1="668.75" y1="673.30" x2="670.35" y2="673.30"/>
<text class="ct" x="672.55" y="675.66">0.3</text>
<line class="a" x1="668.75" y1="654.30" x2="670.35" y2="654.30"/>
<text class="ct" x="672.55" y="656.66">0.4</text>
<line class="a" x1="668.75" y1="635.30" x2="670.35" y2="635.30"/>
<text class="ct" x="672.55" y="637.66">0.5</text>
<line class="a" x1="668.75" y1="616.30" x2="670.35" y2="616.30"/>
<text class="ct" x="672.55" y="618.66">0.6</text>
<line class="a" x1="668.75" y1="597.30" x2="670.35" y2="597.30"/>
<text class="ct" x="672.55" y="599.66">0.7</text>
<line class="a" x1="668.75" y1="578.30" x2="670.35" y2="578.30"/>
<text class="ct" x="672.55" y="580.66">0.8</text>
<line class="a" x1="668.75" y1="559.30" x2="670.35" y2="559.30"/>
<text class="ct" x="672.55" y="561.66">0.9</text>
<line class="a" x1="668.75" y1="540.30" x2="670.35" y2="540.30"/>
<text class="ct" x="672.55" y="542.66">1</text>
<text class="lab" x="557.55" y="701.80" text-anchor="middle">(l)</text>
</svg>
</body></html>
